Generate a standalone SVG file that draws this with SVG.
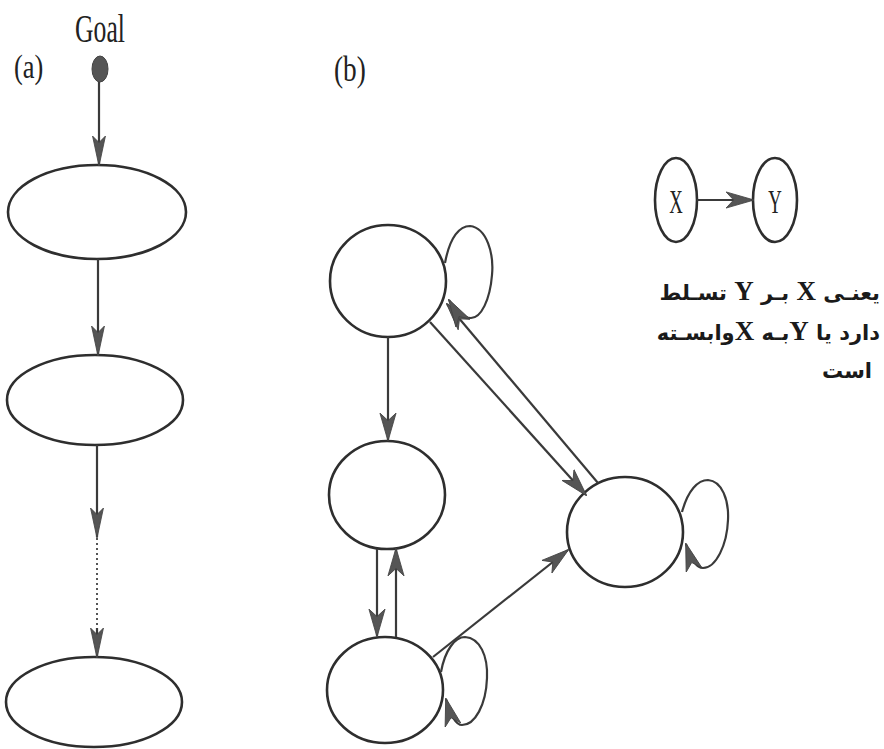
<svg xmlns="http://www.w3.org/2000/svg" width="884" height="749" viewBox="0 0 884 749">
<style>
.node{fill:none;stroke:#2e2e2e;stroke-width:2.6}
.edge{fill:none;stroke:#3a3a3a;stroke-width:2.2}
.dot{fill:none;stroke:#555;stroke-width:2;stroke-dasharray:2 3}
.lbl{font-family:"Liberation Serif",serif;fill:#222}
.fa{font-family:"DejaVu Sans",sans-serif;font-weight:bold;font-size:21px;fill:#1a1a1a}
.lat{font-family:"Liberation Serif",serif;font-weight:bold;font-size:27px}
</style>
<defs>
<marker id="arrA" markerUnits="userSpaceOnUse" markerWidth="30" markerHeight="14" viewBox="0 0 28 12" refX="27" refY="6" orient="auto">
<path d="M0,0 L28,6 L0,12 L6,6 z" fill="#555" stroke="#444" stroke-width="0.8"/>
</marker>
<marker id="arrB" markerUnits="userSpaceOnUse" markerWidth="28" markerHeight="18" viewBox="0 0 26 15" refX="25" refY="7.5" orient="auto">
<path d="M0,0 L26,7.5 L0,15 L7,7.5 z" fill="#555" stroke="#444" stroke-width="0.8"/>
</marker>
</defs>
<rect width="884" height="749" fill="#fff"/>

<text class="lbl" font-size="33" transform="translate(14,78) scale(0.8,1)">(a)</text>
<text class="lbl" font-size="35" transform="translate(334,81) scale(0.78,1)">(b)</text>

<g id="goal">
<text class="lbl" font-size="40" text-anchor="middle" transform="translate(100,42) scale(0.64,1)">Goal</text>
<ellipse cx="100" cy="69" rx="8" ry="13" fill="#555" stroke="#444" stroke-width="1"/>
</g>
<g id="a1"><ellipse class="node" cx="97" cy="212" rx="89" ry="47"/></g>
<g id="a2"><ellipse class="node" cx="95" cy="400" rx="88" ry="45"/></g>
<g id="a3"><ellipse class="node" cx="94" cy="702" rx="88" ry="45"/></g>

<g id="nA"><ellipse class="node" cx="388" cy="281" rx="58" ry="56"/></g>
<g id="nB"><ellipse class="node" cx="387" cy="495" rx="58" ry="54"/></g>
<g id="nC"><ellipse class="node" cx="385" cy="690" rx="58" ry="53"/></g>
<g id="nD"><ellipse class="node" cx="625" cy="532" rx="58" ry="55"/></g>

<g id="legend">
<g id="lx"><ellipse class="node" cx="676" cy="200" rx="21" ry="42"/>
<text class="lbl" font-size="34" text-anchor="middle" transform="translate(676,213) scale(0.55,1)">X</text></g>
<g id="ly"><ellipse class="node" cx="775" cy="200" rx="22" ry="42"/>
<text class="lbl" font-size="34" text-anchor="middle" transform="translate(775,213) scale(0.55,1)">Y</text></g>
</g>

<g id="caption">
<text class="fa" x="880" y="300" direction="rtl" text-anchor="start">یعنـی <tspan class="lat">X</tspan> بـر <tspan class="lat">Y</tspan> تسـلط</text>
<text class="fa" x="880" y="340" direction="rtl" text-anchor="start">دارد یا <tspan class="lat">Y</tspan>بـه <tspan class="lat">X</tspan>وابسـته</text>
<text class="fa" x="872" y="378" direction="rtl" text-anchor="start">است</text>
</g>

<g id="connectors">
<line class="edge" x1="99" y1="82" x2="99" y2="165" marker-end="url(#arrA)"/>
<line class="edge" x1="98" y1="259" x2="98" y2="355" marker-end="url(#arrA)"/>
<line class="edge" x1="97" y1="445" x2="97" y2="537" marker-end="url(#arrA)"/>
<line class="dot" x1="97" y1="538" x2="97" y2="632"/>
<line class="edge" x1="97" y1="628" x2="97" y2="657" marker-end="url(#arrA)"/>

<line class="edge" x1="388" y1="337" x2="388" y2="440" marker-end="url(#arrB)"/>
<line class="edge" x1="377" y1="549" x2="377" y2="636" marker-end="url(#arrB)"/>
<line class="edge" x1="396" y1="637" x2="396" y2="549" marker-end="url(#arrB)"/>
<line class="edge" x1="433" y1="657" x2="568" y2="550" marker-end="url(#arrB)"/>
<line class="edge" x1="430" y1="322" x2="586" y2="495" marker-end="url(#arrB)"/>
<line class="edge" x1="598" y1="483" x2="447" y2="304" marker-end="url(#arrB)"/>
<path class="edge" d="M445,263 C450,236 460,226 470,226 C487,228 494,254 492,275 C490,300 481,318 471,318 C463,318 455,310 449,300" marker-end="url(#arrB)"/>
<path class="edge" d="M441,672 C445,650 455,637 465,637 C480,638 488,656 487,678 C486,705 475,725 462,725 C455,725 450,714 446,699" marker-end="url(#arrB)"/>
<path class="edge" d="M682,512 C688,490 698,480 708,480 C722,481 729,500 728,520 C727,545 716,568 703,568 C696,568 690,557 686,544" marker-end="url(#arrB)"/>
<line class="edge" x1="697" y1="200" x2="753" y2="200" marker-end="url(#arrB)"/>
</g>
</svg>
